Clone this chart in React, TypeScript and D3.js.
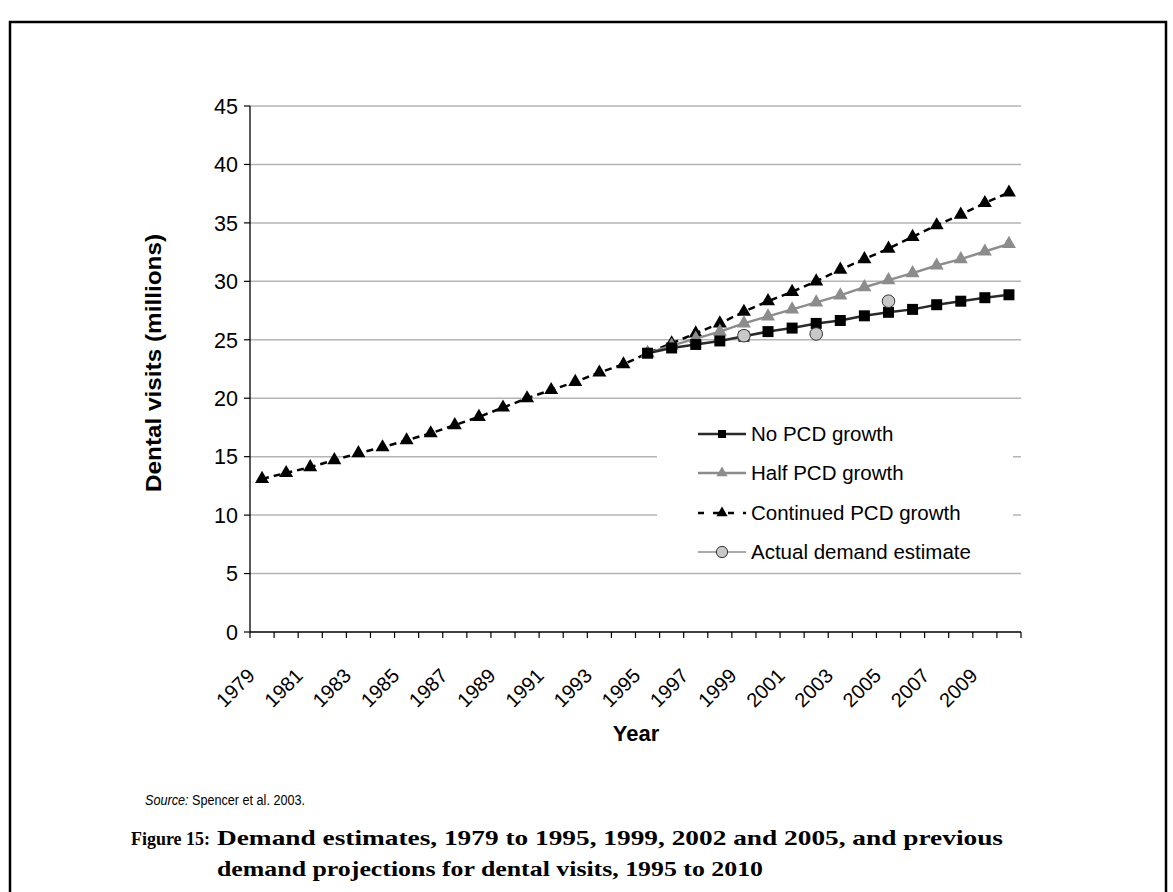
import React from 'react';
import * as d3 from 'd3';

const years = ["1979","1980","1981","1982","1983","1984","1985","1986","1987","1988","1989","1990","1991","1992","1993","1994","1995","1996","1997","1998","1999","2000","2001","2002","2003","2004","2005","2006","2007","2008","2009","2010"];
const continuedPCD = [13.1,13.6,14.1,14.7,15.3,15.8,16.4,17.0,17.7,18.4,19.2,20.0,20.7,21.4,22.2,22.9,23.85,24.7,25.55,26.4,27.4,28.3,29.1,30.0,31.0,31.9,32.8,33.8,34.8,35.7,36.7,37.6];
const projYears = ["1995","1996","1997","1998","1999","2000","2001","2002","2003","2004","2005","2006","2007","2008","2009","2010"];
const halfPCD = [23.85,24.5,25.1,25.7,26.4,27.0,27.6,28.2,28.8,29.5,30.1,30.7,31.35,31.9,32.55,33.2];
const noPCD = [23.85,24.3,24.6,24.9,25.3,25.7,26.0,26.4,26.65,27.05,27.35,27.6,28.0,28.3,28.6,28.85];
const actualYears = ["1999","2002","2005"];
const actualDemand = [25.35,25.5,28.3];
const yTicks = [0,5,10,15,20,25,30,35,40,45];
const xTickLabels = ["1979","1981","1983","1985","1987","1989","1991","1993","1995","1997","1999","2001","2003","2005","2007","2009"];
const legendLabels = ["No PCD growth","Half PCD growth","Continued PCD growth","Actual demand estimate"];

const W = 1173, H = 892;
const L = 250, R = 1021, T = 106, B = 632;
const SANS = "'Liberation Sans', Arial, sans-serif";
const SERIF = "'Liberation Serif', 'Times New Roman', serif";

export default function App() {
  const x = d3.scaleBand<string>().domain(years).range([L, R]);
  const cx = (yr: string) => (x(yr) as number) + x.bandwidth() / 2;
  const y = d3.scaleLinear().domain([0, 45]).range([B, T]);

  const line = d3.line<[string, number]>().x(d => cx(d[0])).y(d => y(d[1]));
  const contPts: [string, number][] = years.map((yr, i) => [yr, continuedPCD[i]]);
  const halfPts: [string, number][] = projYears.map((yr, i) => [yr, halfPCD[i]]);
  const noPts: [string, number][] = projYears.map((yr, i) => [yr, noPCD[i]]);
  const actPts: [string, number][] = actualYears.map((yr, i) => [yr, actualDemand[i]]);

  const tri = d3.symbol(d3.symbolTriangle, 85)();
  const triL = d3.symbol(d3.symbolTriangle, 55)();
  const sq = d3.symbol(d3.symbolSquare, 121)();
  const sqL = d3.symbol(d3.symbolSquare, 64)();
  const circ = d3.symbol(d3.symbolCircle, 125)();
  const circL = d3.symbol(d3.symbolCircle, 100)();

  const legX = 657, legY = 412, legW = 356, legH = 158;
  const rowY = [434, 473, 513, 552];

  return (
    <svg width={W} height={H} style={{ position: 'absolute', left: 0, top: 0, background: '#fff' }}>
      <rect x={0} y={0} width={W} height={H} fill="#fff" />
      {/* page border */}
      <path d={`M10,${H} V22 H1166 V${H}`} fill="none" stroke="#000" strokeWidth={2.5} />

      {/* gridlines */}
      {yTicks.filter(t => t > 0).map(t => (
        <line key={t} x1={L} x2={R} y1={y(t)} y2={y(t)} stroke="#b4b4b4" strokeWidth={1.5} />
      ))}

      {/* y axis */}
      <line x1={L} x2={L} y1={T} y2={B} stroke="#000" strokeWidth={1.3} />
      {yTicks.map(t => (
        <g key={t}>
          <line x1={L - 6} x2={L} y1={y(t)} y2={y(t)} stroke="#000" strokeWidth={1.2} />
          <text x={238} y={y(t)} dy="0.36em" textAnchor="end" fontFamily={SANS} fontSize={21.5} fill="#000">{t}</text>
        </g>
      ))}

      {/* x axis */}
      <line x1={L} x2={R} y1={B} y2={B} stroke="#000" strokeWidth={1.3} />
      {years.map(yr => (
        <line key={yr} x1={x(yr) as number} x2={x(yr) as number} y1={B} y2={B + 6} stroke="#000" strokeWidth={1.2} />
      ))}
      <line x1={R} x2={R} y1={B} y2={B + 6} stroke="#000" strokeWidth={1.2} />
      {xTickLabels.map(yr => (
        <text key={yr} transform={`translate(${cx(yr) - 6},${B + 45}) rotate(-45)`} textAnchor="end" fontFamily={SANS} fontSize={20} fill="#000">{yr}</text>
      ))}

      {/* axis titles */}
      <text x={636} y={741} textAnchor="middle" fontFamily={SANS} fontWeight="bold" fontSize={22} fill="#000">Year</text>
      <text transform={`translate(161,363) rotate(-90)`} textAnchor="middle" fontFamily={SANS} fontWeight="bold" fontSize={22} fill="#000" textLength={258} lengthAdjust="spacingAndGlyphs">Dental visits (millions)</text>

      {/* series */}
      <path d={line(contPts) as string} fill="none" stroke="#000" strokeWidth={2.5} strokeDasharray="7,5" />
      {contPts.map(d => <path key={d[0]} d={tri as string} transform={`translate(${cx(d[0])},${y(d[1])})`} fill="#000" />)}
      <path d={line(halfPts) as string} fill="none" stroke="#8c8c8c" strokeWidth={2.5} />
      {halfPts.map(d => <path key={d[0]} d={tri as string} transform={`translate(${cx(d[0])},${y(d[1])})`} fill="#8c8c8c" />)}
      <path d={line(noPts) as string} fill="none" stroke="#2a2a2a" strokeWidth={2.5} />
      {noPts.map(d => <path key={d[0]} d={sq as string} transform={`translate(${cx(d[0])},${y(d[1])})`} fill="#000" />)}
      {actPts.map(d => <path key={d[0]} d={circ as string} transform={`translate(${cx(d[0])},${y(d[1])})`} fill="#c8c8c8" stroke="#333" strokeWidth={1} />)}

      {/* legend */}
      <rect x={legX} y={legY} width={legW} height={legH} fill="#fff" />
      {legendLabels.map((lab, i) => {
        const ry = rowY[i];
        return (
          <g key={lab}>
            {i === 0 && <>
              <line x1={698} x2={746} y1={ry} y2={ry} stroke="#2a2a2a" strokeWidth={2.5} />
              <path d={sqL as string} transform={`translate(722,${ry})`} fill="#000" />
            </>}
            {i === 1 && <>
              <line x1={698} x2={746} y1={ry} y2={ry} stroke="#8c8c8c" strokeWidth={2.5} />
              <path d={triL as string} transform={`translate(722,${ry})`} fill="#8c8c8c" />
            </>}
            {i === 2 && <>
              <line x1={698} x2={746} y1={ry} y2={ry} stroke="#000" strokeWidth={2.5} strokeDasharray="6,9" strokeDashoffset={0} />
              <path d={triL as string} transform={`translate(722,${ry})`} fill="#000" />
            </>}
            {i === 3 && <>
              <line x1={698} x2={746} y1={ry} y2={ry} stroke="#555" strokeWidth={1} />
              <path d={circL as string} transform={`translate(722,${ry})`} fill="#c8c8c8" stroke="#333" strokeWidth={1} />
            </>}
            <text x={751} y={ry} dy="0.36em" fontFamily={SANS} fontSize={20.5} fill="#000">{lab}</text>
          </g>
        );
      })}

      {/* source & caption */}
      <text x={145} y={805} fontFamily={SANS} fontSize={14} fill="#000" textLength={160} lengthAdjust="spacingAndGlyphs">
        <tspan fontStyle="italic">Source:</tspan> Spencer et al. 2003.
      </text>
      <text x={131} y={845} fontFamily={SERIF} fontWeight="bold" fontSize={19} fill="#000" textLength={79} lengthAdjust="spacingAndGlyphs">Figure 15:</text>
      <text x={217} y={845} fontFamily={SERIF} fontWeight="bold" fontSize={22} fill="#000" textLength={786} lengthAdjust="spacingAndGlyphs">Demand estimates, 1979 to 1995, 1999, 2002 and 2005, and previous</text>
      <text x={217} y={876} fontFamily={SERIF} fontWeight="bold" fontSize={22} fill="#000" textLength={546} lengthAdjust="spacingAndGlyphs">demand projections for dental visits, 1995 to 2010</text>
    </svg>
  );
}
